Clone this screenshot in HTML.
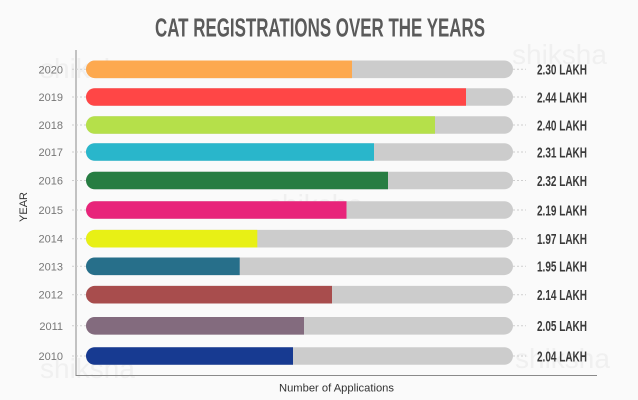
<!DOCTYPE html>
<html>
<head>
<meta charset="utf-8">
<style>
html,body{margin:0;padding:0;background:#fafafa;}
svg{display:block;}
</style>
</head>
<body>
<svg width="638" height="400" viewBox="0 0 638 400" xmlns="http://www.w3.org/2000/svg">
  <rect x="0" y="0" width="638" height="400" fill="#fafafa"/>

  <!-- faint watermarks -->
  <g font-family="Liberation Sans, sans-serif" fill="#f0f0f0" font-size="28">
    <text x="40" y="78">shiksha</text>
    <text x="512" y="64">shiksha</text>
    <text x="268" y="214">shiksha</text>
    <text x="40" y="378">shiksha</text>
    <text x="515" y="368">shiksha</text>
  </g>

  <!-- Title -->
  <text x="155" y="36.7" font-family="Liberation Sans, sans-serif" font-weight="bold" font-size="26" fill="#5a5a5a" textLength="330" lengthAdjust="spacingAndGlyphs">CAT REGISTRATIONS OVER THE YEARS</text>

  <!-- axes -->
  <line x1="76" y1="50" x2="76" y2="376" stroke="#8a8a8a" stroke-width="1"/>
  <line x1="76" y1="375.5" x2="597" y2="375.5" stroke="#8a8a8a" stroke-width="1"/>

  <!-- YEAR label -->
  <text x="0" y="0" transform="translate(27,207) rotate(-90)" text-anchor="middle" font-family="Liberation Sans, sans-serif" font-size="11" fill="#333">YEAR</text>

  <!-- x label -->
  <text x="279" y="391.5" font-family="Liberation Sans, sans-serif" font-size="11" fill="#333" textLength="115" lengthAdjust="spacingAndGlyphs">Number of Applications</text>

  <g font-family="Liberation Sans, sans-serif">
    <!-- 2020 -->
    <g>
      <line x1="72" y1="69.3" x2="86" y2="69.3" stroke="#cfcfcf" stroke-dasharray="2,2"/>
      <line x1="513" y1="69.3" x2="526" y2="69.3" stroke="#cfcfcf" stroke-dasharray="2,2"/>
      <rect x="86" y="60.5" width="427" height="17.6" rx="8.8" fill="#cccccc"/>
      <path d="M94.8,60.5 H352 V78.1 H94.8 A8.8,8.8 0 0 1 94.8,60.5 Z" fill="#fda94f"/>
      <text x="63" y="73.3" text-anchor="end" font-size="11" fill="#777">2020</text>
      <text x="537" y="74.6" font-size="15" font-weight="bold" fill="#3a3a3a" textLength="50" lengthAdjust="spacingAndGlyphs">2.30 LAKH</text>
    </g>
    <!-- 2019 -->
    <g>
      <line x1="72" y1="97" x2="86" y2="97" stroke="#cfcfcf" stroke-dasharray="2,2"/>
      <line x1="513" y1="97" x2="526" y2="97" stroke="#cfcfcf" stroke-dasharray="2,2"/>
      <rect x="86" y="88.2" width="427" height="17.6" rx="8.8" fill="#cccccc"/>
      <path d="M94.8,88.2 H466 V105.8 H94.8 A8.8,8.8 0 0 1 94.8,88.2 Z" fill="#ff4646"/>
      <text x="63" y="101" text-anchor="end" font-size="11" fill="#777">2019</text>
      <text x="537" y="102.3" font-size="15" font-weight="bold" fill="#3a3a3a" textLength="50" lengthAdjust="spacingAndGlyphs">2.44 LAKH</text>
    </g>
    <!-- 2018 -->
    <g>
      <line x1="72" y1="125" x2="86" y2="125" stroke="#cfcfcf" stroke-dasharray="2,2"/>
      <line x1="513" y1="125" x2="526" y2="125" stroke="#cfcfcf" stroke-dasharray="2,2"/>
      <rect x="86" y="116.2" width="427" height="17.6" rx="8.8" fill="#cccccc"/>
      <path d="M94.8,116.2 H435 V133.8 H94.8 A8.8,8.8 0 0 1 94.8,116.2 Z" fill="#b5e04a"/>
      <text x="63" y="129" text-anchor="end" font-size="11" fill="#777">2018</text>
      <text x="537" y="130.3" font-size="15" font-weight="bold" fill="#3a3a3a" textLength="50" lengthAdjust="spacingAndGlyphs">2.40 LAKH</text>
    </g>
    <!-- 2017 -->
    <g>
      <line x1="72" y1="152" x2="86" y2="152" stroke="#cfcfcf" stroke-dasharray="2,2"/>
      <line x1="513" y1="152" x2="526" y2="152" stroke="#cfcfcf" stroke-dasharray="2,2"/>
      <rect x="86" y="143.2" width="427" height="17.6" rx="8.8" fill="#cccccc"/>
      <path d="M94.8,143.2 H374 V160.8 H94.8 A8.8,8.8 0 0 1 94.8,143.2 Z" fill="#29b6cb"/>
      <text x="63" y="156" text-anchor="end" font-size="11" fill="#777">2017</text>
      <text x="537" y="157.3" font-size="15" font-weight="bold" fill="#3a3a3a" textLength="50" lengthAdjust="spacingAndGlyphs">2.31 LAKH</text>
    </g>
    <!-- 2016 -->
    <g>
      <line x1="72" y1="180.5" x2="86" y2="180.5" stroke="#cfcfcf" stroke-dasharray="2,2"/>
      <line x1="513" y1="180.5" x2="526" y2="180.5" stroke="#cfcfcf" stroke-dasharray="2,2"/>
      <rect x="86" y="171.7" width="427" height="17.6" rx="8.8" fill="#cccccc"/>
      <path d="M94.8,171.7 H388 V189.3 H94.8 A8.8,8.8 0 0 1 94.8,171.7 Z" fill="#277d42"/>
      <text x="63" y="184.5" text-anchor="end" font-size="11" fill="#777">2016</text>
      <text x="537" y="185.8" font-size="15" font-weight="bold" fill="#3a3a3a" textLength="50" lengthAdjust="spacingAndGlyphs">2.32 LAKH</text>
    </g>
    <!-- 2015 -->
    <g>
      <line x1="72" y1="210" x2="86" y2="210" stroke="#cfcfcf" stroke-dasharray="2,2"/>
      <line x1="513" y1="210" x2="526" y2="210" stroke="#cfcfcf" stroke-dasharray="2,2"/>
      <rect x="86" y="201.2" width="427" height="17.6" rx="8.8" fill="#cccccc"/>
      <path d="M94.8,201.2 H346.5 V218.8 H94.8 A8.8,8.8 0 0 1 94.8,201.2 Z" fill="#e8247a"/>
      <text x="63" y="214" text-anchor="end" font-size="11" fill="#777">2015</text>
      <text x="537" y="215.3" font-size="15" font-weight="bold" fill="#3a3a3a" textLength="50" lengthAdjust="spacingAndGlyphs">2.19 LAKH</text>
    </g>
    <!-- 2014 -->
    <g>
      <line x1="72" y1="238.7" x2="86" y2="238.7" stroke="#cfcfcf" stroke-dasharray="2,2"/>
      <line x1="513" y1="238.7" x2="526" y2="238.7" stroke="#cfcfcf" stroke-dasharray="2,2"/>
      <rect x="86" y="229.9" width="427" height="17.6" rx="8.8" fill="#cccccc"/>
      <path d="M94.8,229.9 H257.3 V247.5 H94.8 A8.8,8.8 0 0 1 94.8,229.9 Z" fill="#e8f015"/>
      <text x="63" y="242.7" text-anchor="end" font-size="11" fill="#777">2014</text>
      <text x="537" y="244" font-size="15" font-weight="bold" fill="#3a3a3a" textLength="50" lengthAdjust="spacingAndGlyphs">1.97 LAKH</text>
    </g>
    <!-- 2013 -->
    <g>
      <line x1="72" y1="266.3" x2="86" y2="266.3" stroke="#cfcfcf" stroke-dasharray="2,2"/>
      <line x1="513" y1="266.3" x2="526" y2="266.3" stroke="#cfcfcf" stroke-dasharray="2,2"/>
      <rect x="86" y="257.5" width="427" height="17.6" rx="8.8" fill="#cccccc"/>
      <path d="M94.8,257.5 H239.7 V275.1 H94.8 A8.8,8.8 0 0 1 94.8,257.5 Z" fill="#276f8a"/>
      <text x="63" y="270.3" text-anchor="end" font-size="11" fill="#777">2013</text>
      <text x="537" y="271.6" font-size="15" font-weight="bold" fill="#3a3a3a" textLength="50" lengthAdjust="spacingAndGlyphs">1.95 LAKH</text>
    </g>
    <!-- 2012 -->
    <g>
      <line x1="72" y1="294.7" x2="86" y2="294.7" stroke="#cfcfcf" stroke-dasharray="2,2"/>
      <line x1="513" y1="294.7" x2="526" y2="294.7" stroke="#cfcfcf" stroke-dasharray="2,2"/>
      <rect x="86" y="285.9" width="427" height="17.6" rx="8.8" fill="#cccccc"/>
      <path d="M94.8,285.9 H332 V303.5 H94.8 A8.8,8.8 0 0 1 94.8,285.9 Z" fill="#a84d4d"/>
      <text x="63" y="298.7" text-anchor="end" font-size="11" fill="#777">2012</text>
      <text x="537" y="300" font-size="15" font-weight="bold" fill="#3a3a3a" textLength="50" lengthAdjust="spacingAndGlyphs">2.14 LAKH</text>
    </g>
    <!-- 2011 -->
    <g>
      <line x1="72" y1="325.8" x2="86" y2="325.8" stroke="#cfcfcf" stroke-dasharray="2,2"/>
      <line x1="513" y1="325.8" x2="526" y2="325.8" stroke="#cfcfcf" stroke-dasharray="2,2"/>
      <rect x="86" y="317" width="427" height="17.6" rx="8.8" fill="#cccccc"/>
      <path d="M94.8,317 H304 V334.6 H94.8 A8.8,8.8 0 0 1 94.8,317 Z" fill="#836b7e"/>
      <text x="63" y="329.8" text-anchor="end" font-size="11" fill="#777">2011</text>
      <text x="537" y="331.1" font-size="15" font-weight="bold" fill="#3a3a3a" textLength="50" lengthAdjust="spacingAndGlyphs">2.05 LAKH</text>
    </g>
    <!-- 2010 -->
    <g>
      <line x1="72" y1="356" x2="86" y2="356" stroke="#cfcfcf" stroke-dasharray="2,2"/>
      <line x1="513" y1="356" x2="526" y2="356" stroke="#cfcfcf" stroke-dasharray="2,2"/>
      <rect x="86" y="347.2" width="427" height="17.6" rx="8.8" fill="#cccccc"/>
      <path d="M94.8,347.2 H293 V364.8 H94.8 A8.8,8.8 0 0 1 94.8,347.2 Z" fill="#173a91"/>
      <text x="63" y="360" text-anchor="end" font-size="11" fill="#777">2010</text>
      <text x="537" y="361.3" font-size="15" font-weight="bold" fill="#3a3a3a" textLength="50" lengthAdjust="spacingAndGlyphs">2.04 LAKH</text>
    </g>
  </g>
</svg>
</body>
</html>
